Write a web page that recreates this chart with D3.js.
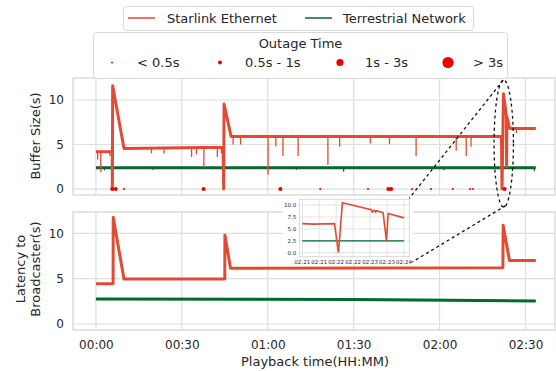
<!DOCTYPE html>
<html><head><meta charset="utf-8">
<script src="https://cdn.jsdelivr.net/npm/d3@7"></script>
<style>body{margin:0;background:#fff}svg{display:block;font-family:"DejaVu Sans",sans-serif}</style>
</head><body><svg id="c" width="556" height="371"></svg>
<script>
// ---------- data (time in minutes, values in seconds) ----------
const seriesNames = ["Starlink Ethernet", "Terrestrial Network"];
const outageLabels = ["< 0.5s", "0.5s - 1s", "1s - 3s", "> 3s"];
const xTickValues = [0, 30, 60, 90, 120, 150];
const xTickLabels = ["00:00", "00:30", "01:00", "01:30", "02:00", "02:30"];
const yTickValues = [0, 5, 10];

const bufferStarlink = [[0,4.2],[5.7,4.2],[5.75,0],[5.85,11.6],[9.8,4.55],[44.4,4.7],[44.6,0],[44.75,9.55],[47.2,5.9],
  [141.6,5.9],[141.8,0],[142.3,10.7],[143.3,8.3],[143.4,2.5],[143.5,8.1],[144.5,6.8],[153.6,6.8]];
// [time, base value, dip value]
const bufferStarlinkDips = [[0.6,4.2,3.3],[1.7,4.2,1.9],[4.9,4.2,3.7],[19.4,4.6,4.0],[23.8,4.6,4.0],[33.4,4.6,3.6],
  [35.1,4.6,3.9],[37.7,4.6,2.4],[42.4,4.7,3.6],[43.8,4.7,4.0],[47.9,5.9,5.0],[50.5,5.9,5.0],[60.1,5.9,1.6],
  [62.8,5.9,4.8],[65.3,5.9,3.7],[70.6,5.9,3.7],[81,5.9,2.7],[85.1,5.9,4.75],[95.8,5.9,5.1],[102.5,5.9,5.05],
  [111.8,5.9,3.7],[125.8,5.9,4.3],[129.3,5.9,3.7],[131,5.9,4.75],[146.8,6.8,6.3]];
const bufferTerrestrial = [[0,2.4],[153.6,2.4]];
const bufferTerrestrialDips = [[3,2.4,2.1],[20,2.4,2.15],[70,2.4,2.15],[86.5,2.4,1.95],[121.5,2.4,2.1],[153.1,2.4,2.0]];

// [time, outage class index]
const outages = [[5.7,1],[6.9,1],[9.8,0],[37.6,1],[64.4,1],[78.3,0],[95.0,0],[102.1,1],[103.1,1],
  [110.4,0],[117.0,0],[124.6,0],[130.6,0],[131.7,0],[142.7,1]];

const latencyStarlink = [[0,4.45],[6.0,4.45],[6.05,11.75],[9.8,4.95],[45.0,4.95],[45.05,9.8],[47.0,6.15],
  [142.1,6.2],[142.2,10.9],[144.4,7.0],[153.6,7.0]];
const latencyTerrestrial = [[0,2.75],[90,2.7],[153.6,2.55]];

// inset (seconds after 02:21:00)
const insetTickValues = [0, 30, 60, 90, 120, 150, 180];
const insetTickLabels = ["02:21","02:21","02:22","02:22","02:23","02:23","02:24"];
const insetYTicks = [0, 2.5, 5, 7.5, 10];
const insetStarlink = [[0,6.1],[20,6.0],[57,6.1],[64,0],[71,10.5],[122,9.0],[124,8.5],[127,8.9],[130,8.5],
  [131,8.8],[143,8.4],[149,2.4],[152,8.2],[180,7.3]];
const insetTerrestrial = [[0,2.5],[180,2.5]];

// ---------- styling ----------
const C_STAR = "#e34a33", C_TER = "#00692c", C_OUT = "#ee0000";
const GRID = "#dedede", SPINE = "#d2d2d2", TXT = "#262626";
const outageR = [1, 2, 3.6, 5.6];

const svg = d3.select("#c");
const x = d3.scaleLinear().domain([-8, 160.3]).range([73, 555]);
const yTop = d3.scaleLinear().domain([-0.67, 12.47]).range([195, 78]);
const yBot = d3.scaleLinear().domain([-0.66, 12.35]).range([330, 212]);

function panel(y) {
  const g = svg.append("g");
  g.append("g").selectAll("line").data(xTickValues).join("line")
    .attr("x1", d => x(d)).attr("x2", d => x(d)).attr("y1", y.range()[0]).attr("y2", y.range()[1])
    .attr("stroke", GRID).attr("stroke-width", 1.2);
  g.append("g").selectAll("line").data(yTickValues).join("line")
    .attr("x1", x.range()[0]).attr("x2", x.range()[1]).attr("y1", d => y(d)).attr("y2", d => y(d))
    .attr("stroke", GRID).attr("stroke-width", 1.2);
  g.append("rect").attr("x", x.range()[0]).attr("y", y.range()[1])
    .attr("width", x.range()[1] - x.range()[0]).attr("height", y.range()[0] - y.range()[1])
    .attr("fill", "none").attr("stroke", SPINE).attr("stroke-width", 1.2);
  const ya = d3.axisLeft(y).tickValues(yTickValues).tickSize(0).tickPadding(9).tickFormat(d3.format("d"));
  const ag = g.append("g").attr("transform", `translate(${x.range()[0]},0)`).call(ya);
  ag.select(".domain").remove();
  ag.selectAll("text").attr("fill", TXT).style("font-size", "12px").style("font-family", "DejaVu Sans");
  return g;
}

const gTop = panel(yTop);
const gBot = panel(yBot);

// x axis on bottom
const xa = d3.axisBottom(x).tickValues(xTickValues).tickSize(0).tickPadding(10)
  .tickFormat((d, i) => xTickLabels[i]);
const xg = svg.append("g").attr("transform", `translate(0,${yBot.range()[0]})`).call(xa);
xg.select(".domain").remove();
xg.selectAll("text").attr("fill", TXT).style("font-size", "12px").style("font-family", "DejaVu Sans");

function drawLine(g, data, y, color, w) {
  g.append("path").datum(data)
    .attr("d", d3.line().x(d => x(d[0])).y(d => y(d[1])))
    .attr("fill", "none").attr("stroke", color).attr("stroke-width", w).attr("stroke-linejoin", "round");
}
function drawDips(g, data, y, color, w) {
  g.append("g").selectAll("line").data(data).join("line")
    .attr("x1", d => x(d[0])).attr("x2", d => x(d[0]))
    .attr("y1", d => y(d[1])).attr("y2", d => y(d[2]))
    .attr("stroke", color).attr("stroke-width", w);
}

drawLine(gTop, bufferTerrestrial, yTop, C_TER, 3);
drawDips(gTop, bufferTerrestrialDips, yTop, C_TER, 1.2);
drawLine(gTop, bufferStarlink, yTop, C_STAR, 3);
drawDips(gTop, bufferStarlinkDips, yTop, C_STAR, 1.3);
gTop.append("g").selectAll("circle").data(outages).join("circle")
  .attr("cx", d => x(d[0])).attr("cy", yTop(0)).attr("r", d => outageR[d[1]]).attr("fill", C_OUT);

drawLine(gBot, latencyTerrestrial, yBot, C_TER, 3);
drawLine(gBot, latencyStarlink, yBot, C_STAR, 3);

// axis labels
svg.append("text").attr("transform", `translate(40,136) rotate(-90)`).attr("text-anchor", "middle")
  .attr("fill", TXT).style("font-size", "13px").text("Buffer Size(s)");
svg.append("text").attr("transform", `translate(25,269) rotate(-90)`).attr("text-anchor", "middle")
  .attr("fill", TXT).style("font-size", "13px").text("Latency to");
svg.append("text").attr("transform", `translate(40,269) rotate(-90)`).attr("text-anchor", "middle")
  .attr("fill", TXT).style("font-size", "13px").text("Broadcaster(s)");
svg.append("text").attr("x", 315).attr("y", 366).attr("text-anchor", "middle")
  .attr("fill", TXT).style("font-size", "13px").text("Playback time(HH:MM)");

// ---------- inset ----------
const ix = d3.scaleLinear().domain([-5.3, 189.4]).range([299.3, 409.3]);
const iy = d3.scaleLinear().domain([-0.84, 11.2]).range([256.7, 199.3]);
const gi = svg.append("g");
gi.append("rect").attr("x", 283).attr("y", 196).attr("width", 130).attr("height", 68).attr("fill", "#fff");
gi.append("g").selectAll("line").data(insetTickValues).join("line")
  .attr("x1", d => ix(d)).attr("x2", d => ix(d)).attr("y1", iy.range()[0]).attr("y2", iy.range()[1])
  .attr("stroke", GRID).attr("stroke-width", 0.8);
gi.append("g").selectAll("line").data(insetYTicks).join("line")
  .attr("x1", ix.range()[0]).attr("x2", ix.range()[1]).attr("y1", d => iy(d)).attr("y2", d => iy(d))
  .attr("stroke", GRID).attr("stroke-width", 0.8);
gi.append("rect").attr("x", ix.range()[0]).attr("y", iy.range()[1])
  .attr("width", ix.range()[1] - ix.range()[0]).attr("height", iy.range()[0] - iy.range()[1])
  .attr("fill", "none").attr("stroke", SPINE).attr("stroke-width", 0.8);
gi.append("path").datum(insetTerrestrial).attr("d", d3.line().x(d => ix(d[0])).y(d => iy(d[1])))
  .attr("fill", "none").attr("stroke", C_TER).attr("stroke-width", 1.2);
gi.append("path").datum(insetStarlink).attr("d", d3.line().x(d => ix(d[0])).y(d => iy(d[1])))
  .attr("fill", "none").attr("stroke", C_STAR).attr("stroke-width", 1.6);
gi.append("g").selectAll("text").data(insetYTicks).join("text")
  .attr("x", ix.range()[0] - 3).attr("y", d => iy(d)).attr("dy", "0.35em").attr("text-anchor", "end")
  .attr("fill", TXT).style("font-size", "5.5px").text(d3.format(".1f"));
gi.append("g").selectAll("text").data(insetTickValues).join("text")
  .attr("x", d => ix(d)).attr("y", iy.range()[0] + 7).attr("text-anchor", "middle")
  .attr("fill", TXT).style("font-size", "5.5px").text((d, i) => insetTickLabels[i]);

// zoom annotation
const ecx = x(142.4), ecy = yTop(5.1);
svg.append("ellipse").attr("cx", ecx).attr("cy", ecy).attr("rx", 9.7).attr("ry", 63.5)
  .attr("fill", "none").attr("stroke", "#111").attr("stroke-width", 1.3).attr("stroke-dasharray", "3,3");
svg.append("line").attr("x1", ecx - 0.5).attr("y1", ecy - 63.5).attr("x2", ix.range()[1]).attr("y2", iy.range()[1] - 1)
  .attr("stroke", "#111").attr("stroke-width", 1.3).attr("stroke-dasharray", "3,3");
svg.append("line").attr("x1", ecx + 2).attr("y1", ecy + 62).attr("x2", ix.range()[1] + 3).attr("y2", 262)
  .attr("stroke", "#111").attr("stroke-width", 1.3).attr("stroke-dasharray", "3,3");

// ---------- legends ----------
const lg1 = svg.append("g");
lg1.append("rect").attr("x", 123.5).attr("y", 6.5).attr("width", 350).attr("height", 24).attr("rx", 3)
  .attr("fill", "#fff").attr("stroke", "#d8d8d8");
[[128, C_STAR, 167], [305, C_TER, 343]].forEach((p, i) => {
  lg1.append("line").attr("x1", p[0]).attr("x2", p[0] + 27).attr("y1", 18).attr("y2", 18)
    .attr("stroke", p[1]).attr("stroke-width", 1.5);
  lg1.append("text").attr("x", p[2]).attr("y", 18).attr("dy", "0.35em").attr("fill", TXT)
    .style("font-size", "13px").text(seriesNames[i]);
});
const lg2 = svg.append("g");
lg2.append("rect").attr("x", 93.5).attr("y", 32.5).attr("width", 414).attr("height", 46).attr("rx", 3)
  .attr("fill", "#fff").attr("stroke", "#d8d8d8");
lg2.append("text").attr("x", 300.5).attr("y", 43.5).attr("dy", "0.35em").attr("text-anchor", "middle")
  .attr("fill", TXT).style("font-size", "13px").text("Outage Time");
const lgX = [112, 220, 340, 448];
outageLabels.forEach((t, i) => {
  lg2.append("circle").attr("cx", lgX[i]).attr("cy", 62.5).attr("r", outageR[i]).attr("fill", C_OUT);
  lg2.append("text").attr("x", lgX[i] + 25).attr("y", 62.5).attr("dy", "0.35em").attr("fill", TXT)
    .style("font-size", "13px").text(t);
});
</script></body></html>
